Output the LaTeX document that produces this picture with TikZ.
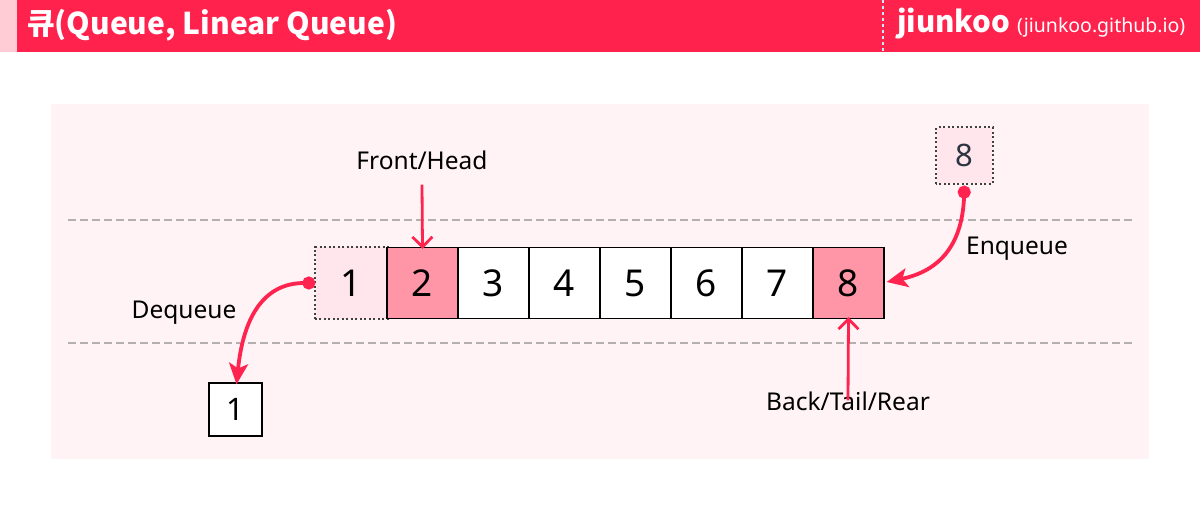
\documentclass[tikz,border=0pt]{standalone}
\usepackage{fontspec}
\setmainfont{Noto Sans}
\newfontfamily\kr{Noto Sans CJK KR}
\usetikzlibrary{arrows.meta}
\definecolor{hdr}{HTML}{FF224D}
\definecolor{strip}{HTML}{FFCCD6}
\definecolor{panel}{HTML}{FFF3F5}
\definecolor{lightcell}{HTML}{FFE5EC}
\definecolor{hicell}{HTML}{FF96A8}
\definecolor{arr}{HTML}{FF2350}
\definecolor{dashc}{HTML}{B4B0B0}
\definecolor{darktxt}{HTML}{2B3440}
\tikzset{
  cell/.style={draw=black, line width=1.3pt, minimum width=71pt, minimum height=71pt, inner sep=0pt, font=\fontsize{37}{37}\selectfont, fill=white},
  ghost/.style={draw=black!75, line width=2pt, dash pattern=on 2pt off 2.5pt},
  lbl/.style={font=\fontsize{24.5}{24.5}\selectfont, inner sep=0pt},
  curvearr/.style={draw=arr, line width=3.8pt, {Circle[length=13pt]}-{Stealth[length=21pt,width=19pt,inset=5pt]}},
  ptr/.style={draw=arr, line width=2.8pt, -{Straight Barb[length=10pt,width=20pt]}},
  sep/.style={draw=dashc, line width=1.6pt, dash pattern=on 8pt off 4pt}
}
\begin{document}
\begin{tikzpicture}[x=1pt,y=-1pt]
\useasboundingbox (0,0) rectangle (1200,513);
\fill[white] (0,0) rectangle (1200,513);
% header
\fill[strip] (0,0) rectangle (17,52);
\fill[hdr] (17,0) rectangle (1200,52);
\draw[white!75!cyan, line width=2.5pt, dash pattern=on 3pt off 3pt] (883,0) -- (883,52);
\node[anchor=west, text=white, inner sep=0pt, font=\kr\bfseries\fontsize{30}{30}\selectfont] (title) at (27,25) {큐(Queue, Linear Queue)};
\node[anchor=west, text=white, inner sep=0pt, font=\kr\bfseries\fontsize{29.5}{29.5}\selectfont] (brand) at (897,24) {jiunkoo};
\node[anchor=west, text=white, inner sep=0pt, font=\fontsize{19.5}{19.5}\selectfont] (url) at (1017,27) {(jiunkoo.github.io)};
% panel
\fill[panel] (51,104) rectangle (1149,459);
\draw[sep] (68,220) -- (1132,220);
\draw[sep] (68,343) -- (1132,343);
% cells
\node[cell, draw=none, fill=lightcell] (c1) at (351.5,283) {1};
\draw[ghost] (c1.south west) rectangle (c1.north east);
\node[cell, fill=hicell] (c2) at (422.5,283) {2};
\node[cell] (c3) at (493.5,283) {3};
\node[cell] (c4) at (564.5,283) {4};
\node[cell] (c5) at (635.5,283) {5};
\node[cell] (c6) at (706.5,283) {6};
\node[cell] (c7) at (777.5,283) {7};
\node[cell, fill=hicell] (c8) at (848.5,283) {8};
% top box
\node[cell, draw=none, fill=lightcell, minimum width=55pt, minimum height=55pt, text=darktxt, font=\fontsize{31}{31}\selectfont] (t8) at (964.5,155.5) {8};
\draw[ghost] (t8.south west) rectangle (t8.north east);
% bottom box
\node[cell, minimum width=53pt, minimum height=53pt, font=\fontsize{31}{31}\selectfont] (b1) at (235.5,409.5) {1};
% labels
\node[lbl] (front) at (422,160) {Front/Head};
\node[lbl] (back) at (848,401) {Back/Tail/Rear};
\node[lbl] (enq) at (1017,249) {Enqueue};
\node[lbl] (deq) at (184,313) {Dequeue};
% pointers
\draw[ptr] ([yshift=-15pt]front.south) -- ([yshift=-2pt]c2.north);
\draw[ptr] ([yshift=-9pt]back.north) -- ([yshift=2pt]c8.south);
% curves
\draw[curvearr] ([yshift=-2pt]t8.south) .. controls (962,250) and (935,272) .. ([xshift=2pt,yshift=1pt]c8.east);
\draw[curvearr] (c1.west) .. controls (262,283) and (243,320) .. ([xshift=1pt,yshift=-2pt]b1.north);
\end{tikzpicture}
\end{document}
